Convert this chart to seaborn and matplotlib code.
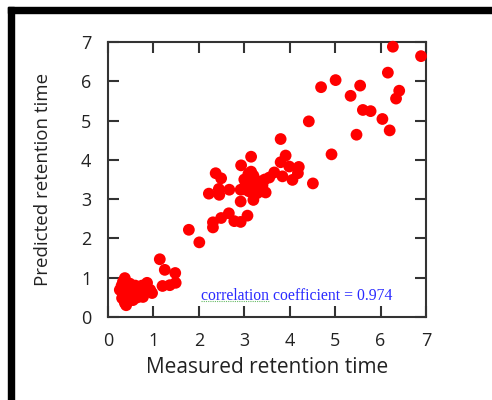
import matplotlib.pyplot as plt
import seaborn as sns
import pandas as pd
from matplotlib.patches import Rectangle

# Values
measured = [0.37, 0.26, 0.31, 0.37, 0.53, 0.64, 0.70, 0.86, 0.93, 0.97, 0.77, 0.55, 0.44,
            0.30, 0.45, 0.60, 0.50, 0.40, 0.80, 0.65, 0.75, 0.35, 0.33, 0.48,
            1.14, 1.25, 1.48, 1.49, 1.36, 1.20,
            1.78, 2.01,
            2.31, 2.31, 2.49, 2.66, 2.78, 2.92, 3.07, 2.22, 2.45, 2.44, 2.67, 2.37, 2.49,
            2.93, 3.09, 3.15, 2.92, 2.92, 3.20, 3.47,
            3.00, 3.05, 3.10, 3.15, 3.20, 3.25, 3.30, 3.35, 3.40, 3.20, 3.10, 3.28,
            3.45, 3.55, 3.00, 3.15, 3.38, 2.98, 3.18,
            3.66, 3.80, 3.91, 3.80, 3.99, 4.20, 3.84, 4.06, 4.18,
            4.42, 4.51, 4.92, 4.69, 5.01, 5.34, 5.55, 5.47, 5.61, 5.78, 6.04, 6.20,
            6.16, 6.34, 6.41, 6.27, 6.89]
predicted = [0.99, 0.69, 0.48, 0.36, 0.76, 0.64, 0.74, 0.87, 0.69, 0.61, 0.51, 0.43, 0.56,
             0.80, 0.70, 0.80, 0.55, 0.30, 0.65, 0.50, 0.80, 0.60, 0.90, 0.85,
             1.47, 1.20, 1.12, 0.87, 0.81, 0.79,
             2.22, 1.90,
             2.41, 2.28, 2.52, 2.64, 2.44, 2.42, 2.58, 3.14, 3.11, 3.26, 3.24, 3.66, 3.53,
             3.86, 3.64, 4.08, 2.94, 3.24, 2.98, 3.17,
             3.30, 3.45, 3.35, 3.50, 3.30, 3.40, 3.25, 3.45, 3.35, 3.60, 3.20, 3.15,
             3.50, 3.55, 3.50, 3.70, 3.20, 3.25, 3.42,
             3.68, 4.53, 4.11, 3.94, 3.83, 3.82, 3.58, 3.49, 3.66,
             4.98, 3.40, 4.14, 5.85, 6.03, 5.63, 5.89, 4.64, 5.27, 5.24, 5.04, 4.75,
             6.22, 5.56, 5.76, 6.88, 6.64]
ticks = [0, 1, 2, 3, 4, 5, 6, 7]
annotation = "correlation coefficient = 0.974"

df = pd.DataFrame({"Measured": measured, "Predicted": predicted})

sns.set_style("ticks")
plt.rcParams['font.family'] = ['Open Sans', 'DejaVu Sans']

fig = plt.figure(figsize=(4.92, 4.0), dpi=100)
ax = fig.add_axes([0.2195, 0.2075, 0.6464, 0.6875])

sns.scatterplot(x="Measured", y="Predicted", data=df, color="#ff0000",
                edgecolor="none", s=72, ax=ax, zorder=3, clip_on=False)

ax.set_xlim(0, 7)
ax.set_ylim(0, 7)
ax.set_xticks(ticks)
ax.set_yticks(ticks)
ax.tick_params(direction="in", length=8, width=1.5, color="#333333",
               top=True, right=True, labelsize=13, labelcolor="#222222")
ax.tick_params(axis="x", pad=11)
ax.tick_params(axis="y", pad=12)
for sp in ax.spines.values():
    sp.set_linewidth(1.5)
    sp.set_color("#333333")

ax.set_xlabel("Measured retention time", fontsize=15, color="#222222", labelpad=5)
ax.set_ylabel("Predicted retention time", fontsize=13.5, color="#222222", labelpad=21)

ax.text(2.05, 0.53, annotation, family="Liberation Serif", fontsize=11.3,
        color="#2a2aff", ha="left", va="center")
ax.plot([2.05, 3.55], [0.40, 0.40], color="#66bb66", lw=0.8, ls=(0, (1, 1)))

# black frame from the original screenshot
fig.patches.append(Rectangle((8 / 492, 0), 6 / 492, 393 / 400, transform=fig.transFigure,
                             color="black", zorder=10))
fig.patches.append(Rectangle((8 / 492, 387 / 400), 484 / 492, 6 / 400,
                             transform=fig.transFigure, color="black", zorder=10))

plt.savefig("out.png", dpi=100)
